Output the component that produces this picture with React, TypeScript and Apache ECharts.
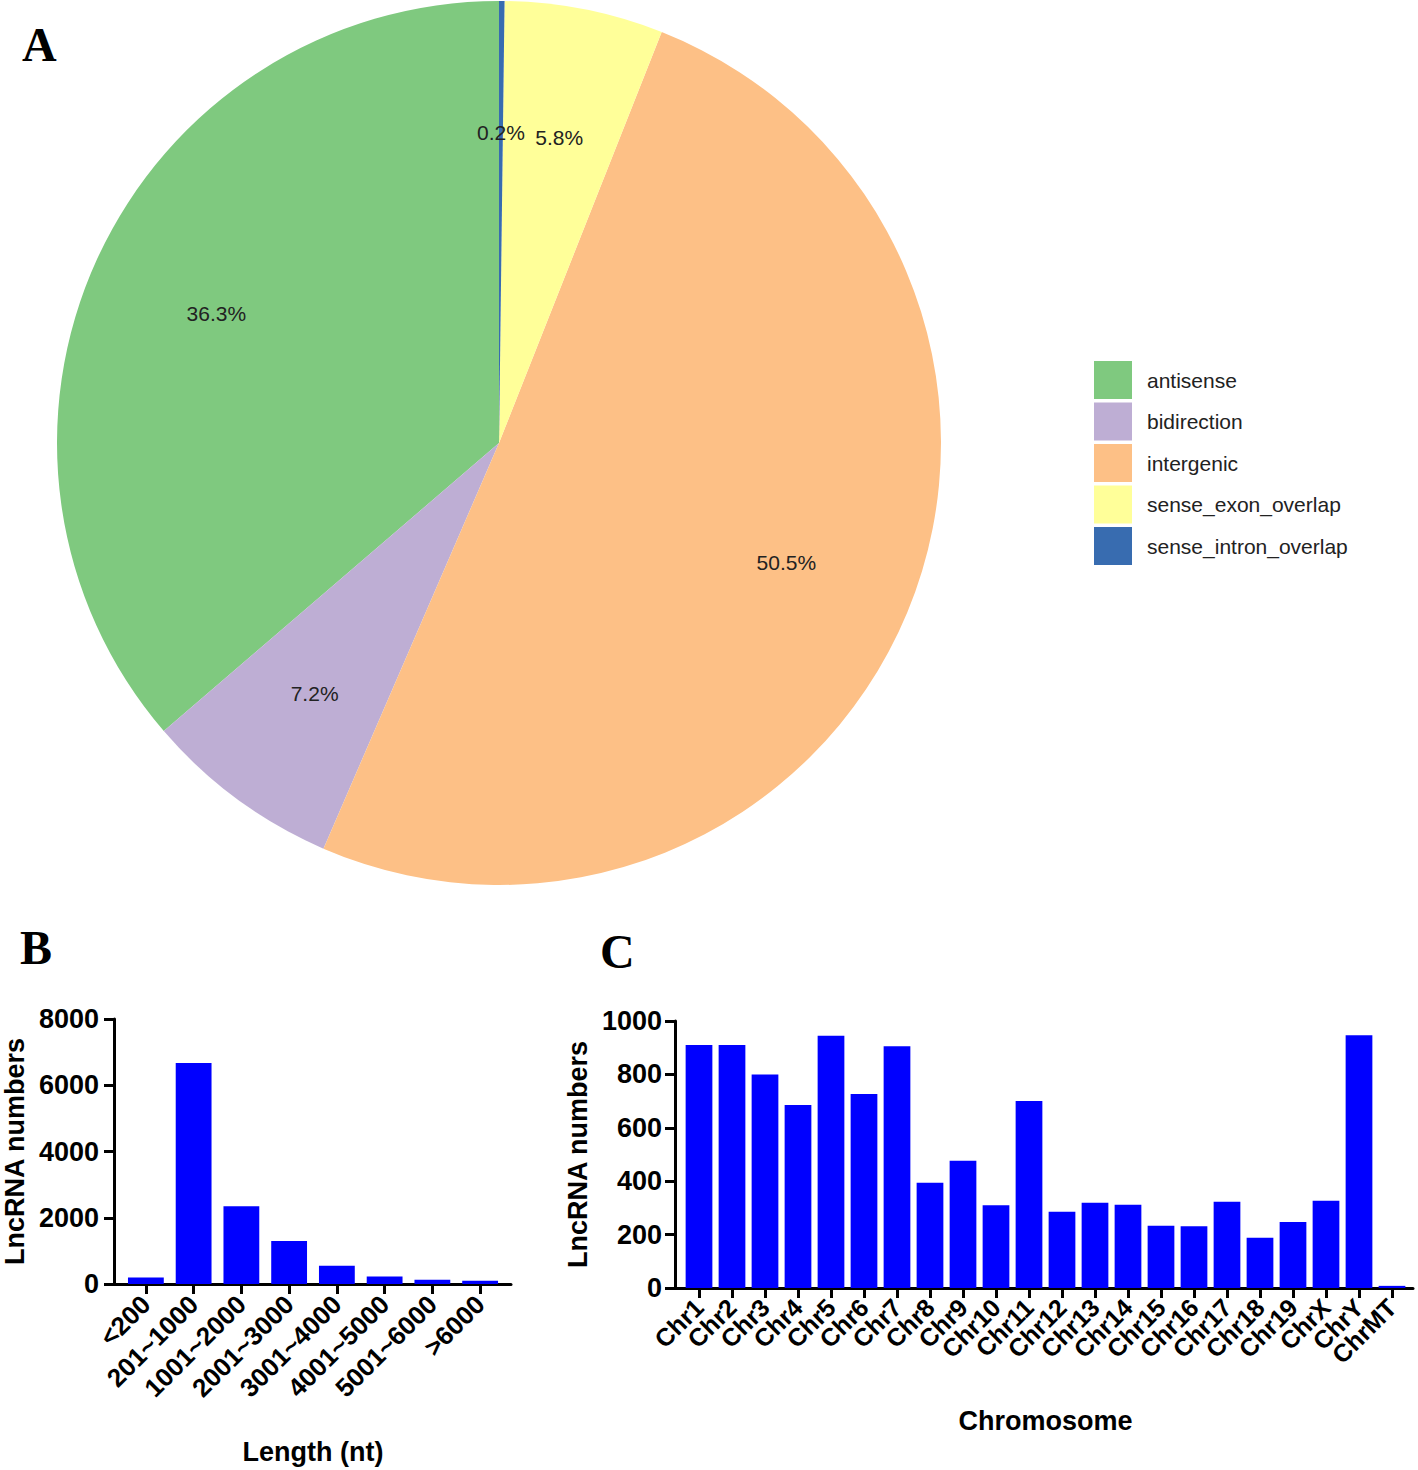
import React, { useEffect, useRef } from "react";
import * as echarts from "echarts";

const pieNames = ["antisense", "bidirection", "intergenic", "sense_exon_overlap", "sense_intron_overlap"];
const piePercents = [36.3, 7.2, 50.5, 5.8, 0.2];
const pieColors = ["#7FC97F", "#BEAED4", "#FDC086", "#FFFF99", "#386CB0"];

const lengthCategories = ["<200", "201~1000", "1001~2000", "2001~3000", "3001~4000", "4001~5000", "5001~6000", ">6000"];
const lengthCounts = [200, 6670, 2350, 1300, 550, 230, 130, 100];
const lengthAxisMax = 8000;
const lengthAxisStep = 2000;

const chrCategories = [
  "Chr1", "Chr2", "Chr3", "Chr4", "Chr5", "Chr6", "Chr7", "Chr8", "Chr9", "Chr10", "Chr11",
  "Chr12", "Chr13", "Chr14", "Chr15", "Chr16", "Chr17", "Chr18", "Chr19", "ChrX", "ChrY", "ChrMT",
];
const chrCounts = [910, 910, 800, 685, 945, 727, 905, 394, 477, 310, 700, 286, 319, 312, 233, 231, 323, 188, 247, 327, 947, 8];
const chrAxisMax = 1000;
const chrAxisStep = 200;

const SANS = "'Liberation Sans', Arial, sans-serif";
const SERIF = "'Liberation Serif', 'Times New Roman', serif";
const BAR_BLUE = "#0000FF";

export default function App() {
  const ref = useRef<HTMLDivElement>(null);

  useEffect(() => {
    if (!ref.current) return;
    const chart = echarts.init(ref.current, undefined, { renderer: "svg" });

    const axisLineStyle = { show: true, lineStyle: { color: "#000", width: 3 } };
    const tickStyle = { show: true, length: 10, lineStyle: { color: "#000", width: 3 } };
    const boldText = (size: number) => ({ fontFamily: SANS, fontWeight: "bold" as const, fontSize: size, color: "#000" });
    const plain = (v: number) => String(v);

    const pieData = pieNames.map((n, i) => ({ name: n, value: piePercents[i], itemStyle: { color: pieColors[i] } }));

    const option: any = {
      animation: false,
      backgroundColor: "#fff",
      legend: {
        orient: "vertical",
        left: 1094,
        top: 361,
        itemWidth: 38,
        itemHeight: 38,
        itemGap: 3.5,
        icon: "rect",
        selectedMode: false,
        padding: 0,
        textStyle: { fontFamily: SANS, fontSize: 21, color: "#222", padding: [0, 0, 0, 10] },
        data: pieNames.map((n, i) => ({ name: n, itemStyle: { color: pieColors[i] } })),
      },
      graphic: [
        { type: "text", left: 22, top: 20, style: { text: "A", font: `bold 48px ${SERIF}`, fill: "#000" } },
        { type: "text", left: 20, top: 923, style: { text: "B", font: `bold 48px ${SERIF}`, fill: "#000" } },
        { type: "text", left: 600, top: 927, style: { text: "C", font: `bold 48px ${SERIF}`, fill: "#000" } },
      ],
      grid: [
        { left: 120, top: 1019, width: 384, height: 265, containLabel: false },
        { left: 682.5, top: 1021, width: 726, height: 267, containLabel: false },
        { left: 112, top: 1019, width: 399, height: 265, containLabel: false },
        { left: 675, top: 1021, width: 738, height: 267, containLabel: false },
      ],
      xAxis: [
        {
          gridIndex: 0,
          type: "category",
          data: lengthCategories,
          axisLine: axisLineStyle,
          axisTick: { ...tickStyle, alignWithLabel: true },
          axisLabel: { ...boldText(26), rotate: 45, interval: 0, margin: 16 },
          name: "Length (nt)",
          nameLocation: "middle",
          nameGap: 154,
          nameTextStyle: boldText(27),
        },
        {
          gridIndex: 1,
          type: "category",
          data: chrCategories,
          axisLine: axisLineStyle,
          axisTick: { ...tickStyle, alignWithLabel: true },
          axisLabel: { ...boldText(25), rotate: 45, interval: 0, margin: 15 },
          name: "Chromosome",
          nameLocation: "middle",
          nameGap: 119,
          nameTextStyle: boldText(27),
        },
        {
          gridIndex: 2, type: "value", min: 0, max: 1,
          axisLine: axisLineStyle, axisTick: { show: false }, axisLabel: { show: false }, splitLine: { show: false },
        },
        {
          gridIndex: 3, type: "value", min: 0, max: 1,
          axisLine: axisLineStyle, axisTick: { show: false }, axisLabel: { show: false }, splitLine: { show: false },
        },
      ],
      yAxis: [
        {
          gridIndex: 0,
          type: "value",
          min: 0,
          max: lengthAxisMax,
          interval: lengthAxisStep,
          offset: 8,
          axisLine: axisLineStyle,
          axisTick: tickStyle,
          axisLabel: { ...boldText(27), margin: 15, formatter: plain },
          splitLine: { show: false },
          name: "LncRNA numbers",
          nameLocation: "middle",
          nameGap: 86,
          nameTextStyle: boldText(27),
        },
        {
          gridIndex: 1,
          type: "value",
          min: 0,
          max: chrAxisMax,
          interval: chrAxisStep,
          offset: 7.5,
          axisLine: axisLineStyle,
          axisTick: tickStyle,
          axisLabel: { ...boldText(27), margin: 13, formatter: plain },
          splitLine: { show: false },
          name: "LncRNA numbers",
          nameLocation: "middle",
          nameGap: 84,
          nameTextStyle: boldText(27),
        },
        { gridIndex: 2, type: "value", show: false, min: 0, max: 1 },
        { gridIndex: 3, type: "value", show: false, min: 0, max: 1 },
      ],
      series: [
        {
          type: "pie",
          name: "types",
          center: [499, 443],
          radius: [0, 442],
          clockwise: false,
          startAngle: 90,
          label: { show: false },
          labelLine: { show: false },
          silent: true,
          data: pieData,
        },
        {
          type: "pie",
          name: "labels",
          center: [499, 443],
          radius: [174, 442],
          clockwise: false,
          startAngle: 90,
          silent: true,
          itemStyle: { color: "rgba(0,0,0,0)" },
          label: {
            show: true,
            position: "inside",
            formatter: "{c}%",
            fontFamily: SANS,
            fontSize: 21,
            color: "#222",
          },
          labelLine: { show: false },
          data: pieNames.map((n, i) => ({ name: n, value: piePercents[i], itemStyle: { color: "rgba(0,0,0,0)" } })),
        },
        {
          type: "bar",
          xAxisIndex: 0,
          yAxisIndex: 0,
          data: lengthCounts,
          barCategoryGap: "25%",
          itemStyle: { color: BAR_BLUE },
          silent: true,
        },
        {
          type: "bar",
          xAxisIndex: 1,
          yAxisIndex: 1,
          data: chrCounts,
          barCategoryGap: "19%",
          itemStyle: { color: BAR_BLUE },
          silent: true,
        },
      ],
    };

    chart.setOption(option);
    return () => chart.dispose();
  }, []);

  return (
    <div
      ref={ref}
      style={{ position: "absolute", left: 0, top: 0, width: 1418, height: 1470, background: "#fff" }}
    />
  );
}
